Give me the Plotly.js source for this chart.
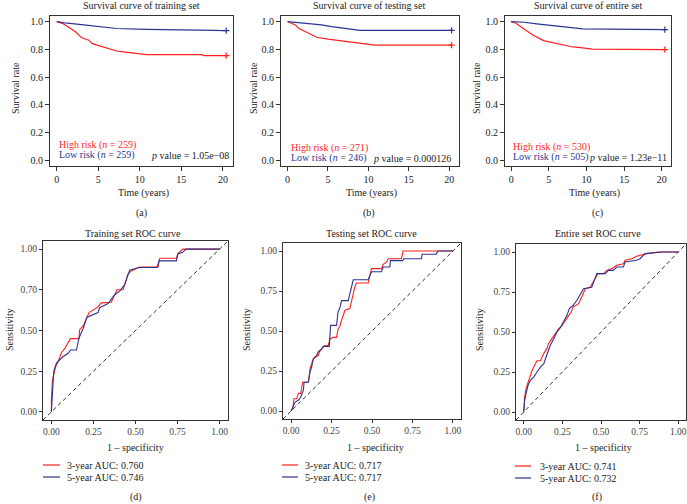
<!DOCTYPE html>
<html><head><meta charset="utf-8">
<script src="https://cdn.plot.ly/plotly-3.0.1.min.js"></script>
<style>html,body{margin:0;padding:0;background:#fff}#chart{width:687px;height:504px}</style>
</head><body><div id="chart"></div>
<script>
// ---------- Survival data (time in years, survival rate) ----------
const trainHighT = [0, 0.68, 1.67, 2.26, 2.86, 3.06, 3.85, 4.25, 4.84, 6.03, 7.22, 7.8, 9.2, 10.8, 17.5, 17.7, 20.4];
const trainHighS = [1.0, 0.987, 0.95, 0.926, 0.89, 0.883, 0.866, 0.843, 0.83, 0.807, 0.788, 0.784, 0.776, 0.762, 0.762, 0.755, 0.755];
const trainLowT = [0, 1.27, 3.25, 5.24, 7.2, 10.8, 15.2, 17.1, 20.4];
const trainLowS = [1.0, 0.988, 0.976, 0.962, 0.95, 0.943, 0.943, 0.938, 0.935];

const testHighT = [0, 0.95, 1.36, 2.18, 3.0, 3.6, 5.0, 6.7, 8.7, 10.8, 20.3];
const testHighS = [1.0, 0.976, 0.952, 0.928, 0.904, 0.887, 0.873, 0.86, 0.85, 0.83, 0.83];
const testLowT = [0, 2.2, 4.2, 5.45, 7.1, 8.1, 8.95, 20.3];
const testLowS = [1.0, 0.988, 0.976, 0.964, 0.952, 0.945, 0.937, 0.937];

const entireHighT = [0, 0.6, 1.7, 3.0, 4.3, 5.6, 6.9, 8.2, 9.5, 10.8, 20.4];
const entireHighS = [1.0, 0.99, 0.947, 0.9, 0.863, 0.846, 0.83, 0.817, 0.81, 0.802, 0.798];
const entireLowT = [0, 1.7, 3.4, 5.6, 7.7, 9.5, 20.4];
const entireLowS = [1.0, 0.995, 0.983, 0.971, 0.959, 0.947, 0.942];

// ---------- ROC data (1 - specificity, sensitivity) ----------
const trainROC3X = [0,0,0.006,0.02,0.026,0.04,0.05,0.06,0.08,0.113,0.164,0.168,0.19,0.21,0.224,0.277,0.297,0.356,0.376,0.39,0.426,0.44,0.455,0.475,0.525,0.634,0.644,0.743,0.752,0.782,1];
const trainROC3Y = [0,0.08,0.196,0.25,0.28,0.31,0.34,0.365,0.39,0.45,0.45,0.505,0.53,0.58,0.61,0.645,0.67,0.674,0.72,0.75,0.75,0.8,0.845,0.866,0.89,0.89,0.944,0.944,0.973,1,1];
const trainROC5X = [0,0.003,0.006,0.014,0.03,0.05,0.07,0.1,0.113,0.149,0.164,0.19,0.21,0.277,0.287,0.337,0.376,0.406,0.435,0.45,0.465,0.52,0.628,0.64,0.743,0.752,0.78,0.8,1];
const trainROC5Y = [0,0.06,0.134,0.25,0.30,0.32,0.34,0.36,0.38,0.38,0.454,0.515,0.58,0.61,0.64,0.666,0.72,0.742,0.78,0.825,0.87,0.887,0.887,0.928,0.928,0.97,0.98,1,1];

const testROC3X = [0,0.01,0.018,0.035,0.045,0.06,0.066,0.072,0.107,0.117,0.127,0.138,0.168,0.175,0.19,0.2,0.23,0.24,0.26,0.281,0.291,0.30,0.312,0.333,0.363,0.374,0.384,0.394,0.404,0.476,0.487,0.497,0.559,0.569,0.59,0.6,0.682,0.692,1];
const testROC3Y = [0,0.015,0.077,0.077,0.11,0.11,0.15,0.18,0.18,0.265,0.296,0.327,0.348,0.37,0.39,0.404,0.41,0.45,0.46,0.46,0.515,0.525,0.567,0.63,0.64,0.69,0.733,0.775,0.80,0.80,0.848,0.89,0.89,0.917,0.93,0.952,0.952,1,1];
const testROC5X = [0,0.014,0.025,0.045,0.06,0.076,0.08,0.107,0.117,0.127,0.138,0.158,0.168,0.19,0.2,0.236,0.24,0.244,0.281,0.29,0.3,0.312,0.353,0.363,0.374,0.384,0.476,0.487,0.497,0.559,0.569,0.61,0.614,0.69,0.695,0.805,0.81,0.897,0.907,1];
const testROC5Y = [0,0.035,0.056,0.067,0.0875,0.13,0.18,0.18,0.244,0.275,0.327,0.348,0.37,0.39,0.404,0.404,0.46,0.535,0.535,0.62,0.64,0.69,0.69,0.733,0.775,0.82,0.82,0.848,0.87,0.87,0.9,0.9,0.94,0.94,0.952,0.952,0.98,0.98,1,1];

const entireROC3X = [0,0.006,0.015,0.028,0.043,0.054,0.075,0.086,0.108,0.129,0.15,0.16,0.178,0.2,0.226,0.247,0.27,0.29,0.307,0.32,0.355,0.376,0.398,0.43,0.462,0.48,0.516,0.538,0.57,0.602,0.645,0.656,0.7,0.73,0.796,0.87,1];
const entireROC3Y = [0,0.094,0.146,0.1875,0.24,0.26,0.30,0.32,0.32,0.365,0.396,0.427,0.452,0.485,0.52,0.54,0.573,0.6,0.625,0.656,0.677,0.72,0.77,0.78,0.833,0.865,0.865,0.885,0.896,0.917,0.927,0.948,0.958,0.973,0.99,1,1];
const entireROC5X = [0,0.006,0.015,0.028,0.043,0.065,0.086,0.108,0.129,0.15,0.172,0.194,0.215,0.237,0.258,0.28,0.295,0.32,0.344,0.366,0.387,0.44,0.462,0.473,0.527,0.548,0.58,0.602,0.645,0.656,0.73,0.753,0.785,0.85,0.9,1];
const entireROC5Y = [0,0.073,0.115,0.167,0.198,0.22,0.25,0.28,0.30,0.354,0.417,0.458,0.5,0.527,0.5625,0.604,0.646,0.667,0.698,0.74,0.77,0.78,0.833,0.865,0.865,0.885,0.885,0.906,0.906,0.9375,0.948,0.958,0.99,0.994,1,1];

// ---------- Labels ----------
const survTitles = ["Survival curve of training set", "Survival curve of testing set", "Survival curve of entire set"];
const rocTitles = ["Training set ROC curve", "Testing set ROC curve", "Entire set ROC curve"];
const highN = [259, 271, 530];
const lowN = [259, 246, 505];
const pValues = ["1.05e\u221208", "0.000126", "1.23e\u221211"];
const auc3 = ["0.760", "0.717", "0.741"];
const auc5 = ["0.746", "0.717", "0.732"];
const survTicks = [0, 0.2, 0.4, 0.6, 0.8, 1.0];
const timeTicks = [0, 5, 10, 15, 20];
const rocTicks = [0, 0.25, 0.5, 0.75, 1];
const rocTickText = [["0.00","0.25","0.50","0.70","1.00"], ["0.00","0.25","0.50","0.75","1.00"], ["0.00","0.25","0.50","0.75","1.00"]];
const panelLetters = ["(a)","(b)","(c)","(d)","(e)","(f)"];

// ---------- Layout helpers ----------
const W = 687, H = 504;
const px = v => v / W;
const py = v => 1 - v / H;
const RED = "#ff1f1f", BLUE = "#2b3590";
const FONT = "Liberation Serif, Times New Roman, serif";

// pixel boxes [left, right, top, bottom]
const survBoxes = [[50,233,16,166],[281,459,16,166],[505,671,16,166]];
const rocBoxes = [[43,228,241,420],[283,461,243,419],[516,686,244,420]];

const layout = {
  width: W, height: H, margin: {l:0, r:0, t:0, b:0},
  paper_bgcolor: "#fff", plot_bgcolor: "#fff",
  showlegend: false, font: {family: FONT, size: 9.5, color: "#222"},
  annotations: [], shapes: []
};
const traces = [];

const survSets = [
  [trainHighT, trainHighS, trainLowT, trainLowS],
  [testHighT, testHighS, testLowT, testLowS],
  [entireHighT, entireHighS, entireLowT, entireLowS]
];
const rocSets = [
  [trainROC3X, trainROC3Y, trainROC5X, trainROC5Y],
  [testROC3X, testROC3Y, testROC5X, testROC5Y],
  [entireROC3X, entireROC3Y, entireROC5X, entireROC5Y]
];

const survTitleX = [141, 369, 588];
const survYLabX = [15, 253, 476];
const survXLabX = [143, 371, 594];
const survLegX = [57, 289, 511];
const survLegY = [[145,155],[148,158],[147,157]];
const survPRight = [231, 453, 669];
const letterTopX = [141, 369, 597];
const letterBotX = [136, 369, 597];
const rocTitleX = [133, 371, 598];
const rocYLabX = [9, 246, 479];
const rocXLabX = [135, 375, 603];
const rocLegLine = [[43,60],[282,298],[515,531]];
const rocLegText = [65, 303, 538];
const rocLegY = [[465,477],[465,477],[466,478]];

function ann(text, x, y, opts) {
  layout.annotations.push(Object.assign({
    text: text, x: px(x), y: py(y), xref: "paper", yref: "paper",
    showarrow: false, xanchor: "center", yanchor: "middle",
    font: {family: FONT, size: 10, color: "#222"}
  }, opts || {}));
}

for (let i = 0; i < 3; i++) {
  const n = i + 1;
  const b = survBoxes[i];
  const xa = "xaxis" + (n === 1 ? "" : n), ya = "yaxis" + (n === 1 ? "" : n);
  layout[xa] = {
    domain: [px(b[0]), px(b[1])], anchor: "y" + n, range: [-0.816, 21.216],
    tickvals: timeTicks, ticks: "outside", ticklen: 4, tickwidth: 1, tickcolor: "#333",
    showline: true, mirror: true, linecolor: "#333", linewidth: 1,
    showgrid: false, zeroline: false, tickfont: {family: FONT, size: 10, color: "#222"}
  };
  layout[ya] = {
    domain: [py(b[3]), py(b[2])], anchor: "x" + n, range: [-0.04, 1.04],
    tickvals: survTicks, tickformat: ".1f", ticks: "outside", ticklen: 4, tickwidth: 1, tickcolor: "#333",
    showline: true, mirror: true, linecolor: "#333", linewidth: 1,
    showgrid: false, zeroline: false, tickfont: {family: FONT, size: 10, color: "#222"}
  };
  const s = survSets[i];
  traces.push({x: s[0], y: s[1], xaxis: "x"+n, yaxis: "y"+n, mode: "lines", line: {color: RED, width: 1.2}});
  traces.push({x: s[2], y: s[3], xaxis: "x"+n, yaxis: "y"+n, mode: "lines", line: {color: BLUE, width: 1.2}});
  traces.push({x: [s[0][s[0].length-1]], y: [s[1][s[1].length-1]], xaxis: "x"+n, yaxis: "y"+n, mode: "markers",
    marker: {symbol: "cross-thin", size: 4.5, line: {color: RED, width: 1.2}}, cliponaxis: false});
  traces.push({x: [s[2][s[2].length-1]], y: [s[3][s[3].length-1]], xaxis: "x"+n, yaxis: "y"+n, mode: "markers",
    marker: {symbol: "cross-thin", size: 4.5, line: {color: BLUE, width: 1.2}}, cliponaxis: false});

  ann(survTitles[i], survTitleX[i], 6, {font: {family: FONT, size: 10, color: "#222"}});
  ann("Survival rate", survYLabX[i], 88, {textangle: -90});
  ann("Time (years)", survXLabX[i], 193);
  ann("High risk (<i>n</i> = " + highN[i] + ")", survLegX[i], survLegY[i][0], {xanchor: "left", font: {family: FONT, size: 10, color: RED}});
  ann("Low risk (<i>n</i> = " + lowN[i] + ")", survLegX[i], survLegY[i][1], {xanchor: "left", font: {family: FONT, size: 10, color: BLUE}});
  ann("<i>p</i> value = " + pValues[i], survPRight[i], survLegY[i][1], {xanchor: "right", font: {family: FONT, size: 10, color: "#222"}});
  ann(panelLetters[i], letterTopX[i], 213);
}

for (let i = 0; i < 3; i++) {
  const n = i + 4;
  const b = rocBoxes[i];
  layout["xaxis" + n] = {
    domain: [px(b[0]), px(b[1])], anchor: "y" + n, range: [-0.05, 1.05],
    tickvals: rocTicks, ticktext: ["0.00","0.25","0.50","0.75","1.00"], ticks: "outside", ticklen: 3, tickwidth: 1, tickcolor: "#333",
    showline: true, mirror: true, linecolor: "#333", linewidth: 1,
    showgrid: false, zeroline: false, tickfont: {family: FONT, size: 9.5, color: "#444"}
  };
  layout["yaxis" + n] = {
    domain: [py(b[3]), py(b[2])], anchor: "x" + n, range: [-0.05, 1.05],
    tickvals: rocTicks, ticktext: rocTickText[i], ticks: "outside", ticklen: 3, tickwidth: 1, tickcolor: "#333",
    showline: true, mirror: true, linecolor: "#333", linewidth: 1,
    showgrid: false, zeroline: false, tickfont: {family: FONT, size: 9.5, color: "#444"}
  };
  layout.shapes.push({type: "line", xref: "x"+n+" domain", yref: "y"+n+" domain", x0: 0, y0: 0, x1: 1, y1: 1,
    line: {color: "#333", width: 1, dash: "4px,3px"}});
  const r = rocSets[i];
  traces.push({x: r[0], y: r[1], xaxis: "x"+n, yaxis: "y"+n, mode: "lines", line: {color: RED, width: 1.1}});
  traces.push({x: r[2], y: r[3], xaxis: "x"+n, yaxis: "y"+n, mode: "lines", line: {color: BLUE, width: 1.1}});

  ann(rocTitles[i], rocTitleX[i], 233);
  ann("Sensitivity", rocYLabX[i], 330, {textangle: -90});
  ann("1 \u2013 specificity", rocXLabX[i], 447);
  // legend
  layout.shapes.push({type: "line", xref: "paper", yref: "paper", x0: px(rocLegLine[i][0]), x1: px(rocLegLine[i][1]),
    y0: py(rocLegY[i][0]), y1: py(rocLegY[i][0]), line: {color: RED, width: 1.2}});
  layout.shapes.push({type: "line", xref: "paper", yref: "paper", x0: px(rocLegLine[i][0]), x1: px(rocLegLine[i][1]),
    y0: py(rocLegY[i][1]), y1: py(rocLegY[i][1]), line: {color: BLUE, width: 1.2}});
  ann("3-year AUC: " + auc3[i], rocLegText[i], rocLegY[i][0], {xanchor: "left"});
  ann("5-year AUC: " + auc5[i], rocLegText[i], rocLegY[i][1], {xanchor: "left"});
  ann(panelLetters[i+3], letterBotX[i], 497);
}

Plotly.newPlot("chart", traces, layout, {staticPlot: true, displayModeBar: false});
</script>
</body></html>
